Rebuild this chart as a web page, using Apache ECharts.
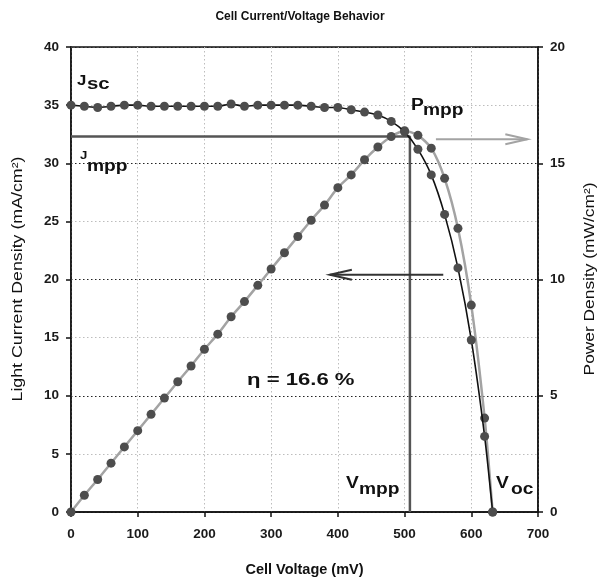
<!DOCTYPE html>
<html><head><meta charset="utf-8">
<script src="https://cdn.jsdelivr.net/npm/echarts@6/dist/echarts.min.js"></script>
<style>html,body{margin:0;padding:0;background:#fff}#c{width:600px;height:584px}</style>
</head><body><div id="c"></div>
<script>
// ---- data ----
const voltage = [0,20,40,60,80,100,120,140,160,180,200,220,240,260,280,300,320,340,360,380,400,420,440,460,480,500,520,540,560,580,600,620,632];
const currentDensity = [35.0,34.9,34.8,34.9,35.0,35.0,34.9,34.9,34.9,34.9,34.9,34.9,35.1,34.9,35.0,35.0,35.0,35.0,34.9,34.8,34.8,34.6,34.4,34.15,33.6,32.7,31.2,29.0,25.6,21.0,14.8,6.5,0];
const powerDensity = [0,0.72,1.40,2.10,2.80,3.50,4.20,4.90,5.60,6.28,7.00,7.65,8.40,9.05,9.75,10.45,11.15,11.85,12.55,13.20,13.95,14.50,15.15,15.70,16.15,16.40,16.20,15.65,14.35,12.20,8.90,4.04,0];
const vMpp = 508;     // mV
const jMpp = 32.3;    // mA/cm2
const efficiencyText = 'η = 16.6 %';
const xTicks = [0,100,200,300,400,500,600,700];
const leftTicks = [0,5,10,15,20,25,30,35,40];
const rightTicks = [0,5,10,15,20];
const xName = 'Cell Voltage (mV)';
const leftName = 'Light Current Density (mA/cm²)';
const rightName = 'Power Density (mW/cm²)';
// arrows (data coords on left axis): [vFrom, vTo, j]
const currentArrow = [558, 388, 20.4];
const powerArrow = [547, 684, 32.06];

const FONT = 'Arial, "Liberation Sans", sans-serif';
const chart = echarts.init(document.getElementById('c'), null, {renderer:'canvas'});

const jData = voltage.map((v,i)=>[v,currentDensity[i]]);
const pData = voltage.map((v,i)=>[v,powerDensity[i]]);
const mppData = [[0,jMpp],[vMpp,jMpp],[vMpp,0]];

const tickLabel = {fontFamily:FONT, fontWeight:'bold', fontSize:13.5, color:'#1a1a1a'};

chart.setOption({
  animation:false,
  backgroundColor:'#fff',
  title:{text:'Cell Current/Voltage Behavior', left:'center', top:6,
    textStyle:{fontFamily:FONT, fontWeight:'bold', fontSize:12, color:'#111'}},
  grid:{left:71, right:62, top:47, bottom:72, show:true, borderColor:'#111', borderWidth:1.5},
  xAxis:{type:'value', min:xTicks[0], max:xTicks[xTicks.length-1], interval:xTicks[1]-xTicks[0],
    name:xName, nameLocation:'middle', nameGap:50,
    nameTextStyle:{fontFamily:FONT, fontWeight:'bold', fontSize:14.5, color:'#111'},
    axisLine:{show:true, onZero:false, lineStyle:{color:'#111', width:1.5}},
    axisTick:{show:true, length:5, lineStyle:{color:'#111', width:1.5}},
    axisLabel:{...tickLabel, margin:15},
    splitLine:{show:true, lineStyle:{color:'#bdbdbd', width:1, type:[1.5,2.5]}}},
  yAxis:[
    {type:'value', min:leftTicks[0], max:leftTicks[leftTicks.length-1], interval:leftTicks[1]-leftTicks[0],
      position:'left',
      axisLine:{show:true, lineStyle:{color:'#111', width:1.5}},
      axisTick:{show:true, length:5, lineStyle:{color:'#111', width:1.5}},
      axisLabel:{...tickLabel, margin:12},
      splitLine:{show:true, lineStyle:{color:['#222','#bdbdbd'], width:1.2, type:[1.5,2.5]}}},
    {type:'value', min:rightTicks[0], max:rightTicks[rightTicks.length-1], interval:rightTicks[1]-rightTicks[0],
      position:'right',
      axisLine:{show:true, lineStyle:{color:'#111', width:1.5}},
      axisTick:{show:true, length:5, lineStyle:{color:'#111', width:1.5}},
      axisLabel:{...tickLabel, margin:12},
      splitLine:{show:false}}
  ],
  series:[
    {type:'line', name:'mpp', data:mppData, yAxisIndex:0, symbol:'none', z:2,
      lineStyle:{color:'#555', width:2.5}},
    {type:'line', name:'Power', data:pData, yAxisIndex:1, smooth:0.25, z:3,
      symbol:'circle', symbolSize:9, lineStyle:{color:'#a3a3a3', width:2.5},
      itemStyle:{color:'#4d4d4d'}},
    {type:'line', name:'Current', data:jData, yAxisIndex:0, smooth:0.25, z:4,
      symbol:'circle', symbolSize:9, lineStyle:{color:'#111', width:1.6},
      itemStyle:{color:'#4d4d4d'}}
  ]
});

function arrow(a, color){
  const p1 = chart.convertToPixel({xAxisIndex:0, yAxisIndex:0}, [a[0], a[2]]);
  const p2 = chart.convertToPixel({xAxisIndex:0, yAxisIndex:0}, [a[1], a[2]]);
  const dir = Math.sign(p2[0]-p1[0]);
  return [
    {type:'line', shape:{x1:p1[0], y1:p1[1], x2:p2[0], y2:p2[1]}, style:{stroke:color, lineWidth:2}, z:10},
    {type:'polyline', shape:{points:[[p2[0]-dir*22, p2[1]-5],[p2[0],p2[1]],[p2[0]-dir*22, p2[1]+5]]},
      style:{stroke:color, lineWidth:2, fill:null}, z:10}
  ];
}
function txt(x, y, s, size, opts){
  opts = opts || {};
  return {type:'text', x:x, y:y, scaleX:opts.sx || 1.2, z:20,
    style:{text:s, fontFamily:FONT, fontSize:size, fontWeight:opts.w || 'bold', fill:'#111',
      verticalAlign:'bottom', align:'left'}};
}
function vname(x, y, s, size, sx){
  return {type:'text', x:x, y:y, rotation:Math.PI/2, scaleX:sx, z:20,
    style:{text:s, fontFamily:FONT, fontSize:size, fontWeight:'normal', fill:'#111',
      align:'center', verticalAlign:'middle'}};
}
const g = [];
g.push(vname(18, 279, leftName, 14, 1.27));
g.push(vname(590, 279, rightName, 14, 1.24));
g.push(...arrow(currentArrow, '#333'));
g.push(...arrow(powerArrow, '#a3a3a3'));
// J_sc
g.push(txt(77, 88, 'J', 14));
g.push(txt(87, 93, 'sc', 17));
// P_mpp
g.push(txt(411, 114, 'P', 16));
g.push(txt(423, 119, 'mpp', 16));
// J_mpp
g.push(txt(80, 161, 'J', 11));
g.push(txt(87, 175, 'mpp', 16));
// V_mpp
g.push(txt(346, 492, 'V', 16));
g.push(txt(359, 498, 'mpp', 16));
// V_oc
g.push(txt(496, 492, 'V', 16));
g.push(txt(511, 498, 'oc', 16));
// efficiency
g.push(txt(247, 389, efficiencyText, 17, {sx:1.3}));
chart.setOption({graphic:g});
</script></body></html>
